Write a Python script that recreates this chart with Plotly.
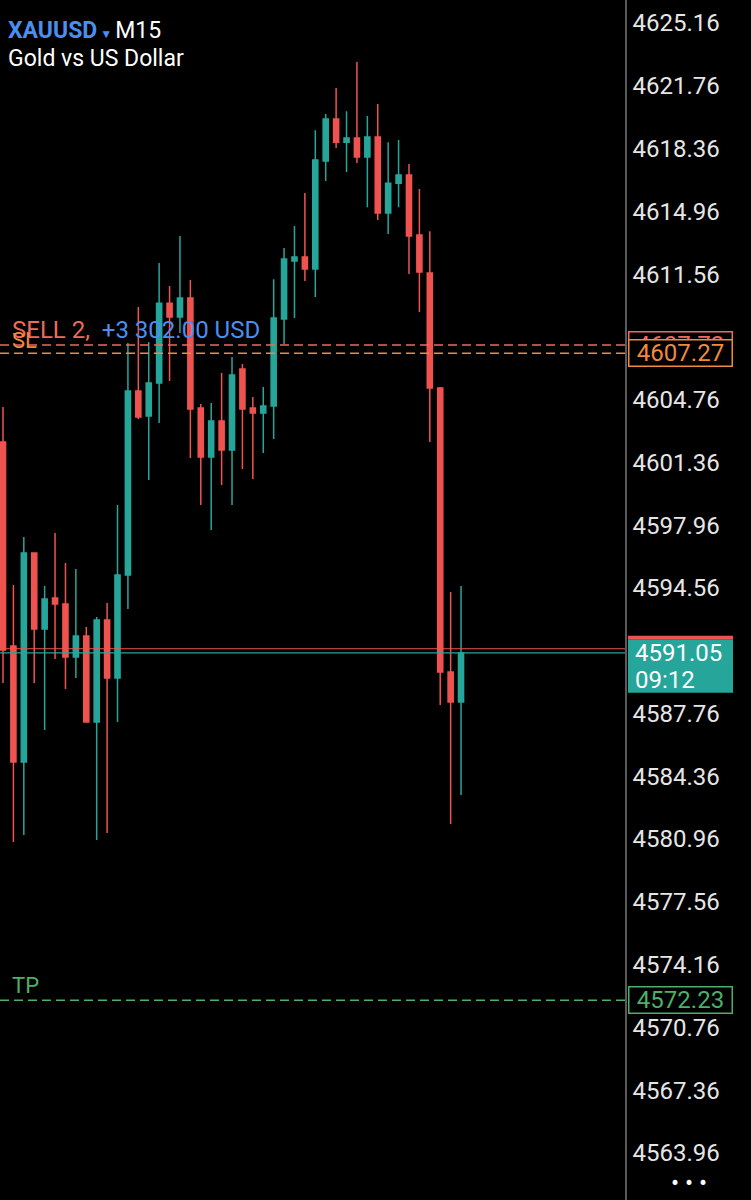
import plotly.graph_objects as go

# chart header
symbol = "XAUUSD"
timeframe = "M15"
description = "Gold vs US Dollar"

# M15 candles (oldest -> newest)
opens = [4602.47, 4591.42, 4585.14, 4596.46, 4592.34, 4594.02, 4593.69, 4590.82, 4591.96, 4587.30,
         4592.83, 4589.69, 4595.26, 4605.23, 4603.87, 4605.66, 4609.99, 4609.24, 4610.27, 4604.31,
         4601.65, 4603.60, 4602.03, 4606.42, 4604.31, 4604.04, 4604.42, 4609.13, 4612.27, 4612.49,
         4611.84, 4617.69, 4619.96, 4618.71, 4618.93, 4617.90, 4618.99, 4614.87, 4616.49, 4616.93,
         4613.68, 4611.62, 4605.39, 4590.01, 4588.39]
highs = [4604.36, 4594.72, 4597.32, 4596.46, 4594.67, 4597.54, 4595.91, 4595.59, 4592.45, 4592.99,
         4593.75, 4599.05, 4607.83, 4609.78, 4607.88, 4612.16, 4610.92, 4613.62, 4611.24, 4604.52,
         4604.58, 4606.20, 4607.07, 4606.69, 4604.90, 4605.45, 4611.29, 4612.97, 4614.17, 4615.95,
         4619.36, 4620.23, 4621.64, 4620.39, 4623.05, 4620.12, 4620.77, 4618.71, 4618.82, 4617.52,
         4616.17, 4613.89, 4605.45, 4594.34, 4594.67]
lows = [4589.41, 4580.80, 4581.18, 4589.41, 4586.87, 4590.71, 4589.09, 4589.69, 4587.30, 4580.91,
        4581.29, 4587.30, 4593.42, 4603.71, 4600.41, 4603.50, 4605.77, 4608.37, 4601.60, 4599.05,
        4597.70, 4600.14, 4599.05, 4601.00, 4600.46, 4601.87, 4602.63, 4607.77, 4609.18, 4611.19,
        4610.32, 4616.60, 4618.39, 4617.09, 4617.58, 4615.19, 4614.49, 4613.73, 4615.19, 4611.57,
        4609.51, 4602.47, 4588.22, 4581.78, 4583.35]
closes = [4591.20, 4585.14, 4596.46, 4592.34, 4593.96, 4593.69, 4590.82, 4591.96, 4587.30, 4592.83,
          4589.69, 4595.26, 4605.23, 4603.82, 4605.66, 4609.99, 4609.24, 4610.27, 4604.25, 4601.65,
          4603.60, 4602.03, 4606.10, 4604.25, 4604.04, 4604.42, 4609.18, 4612.38, 4612.49, 4611.84,
          4617.74, 4619.96, 4618.71, 4618.93, 4617.90, 4618.99, 4614.87, 4616.49, 4616.93, 4613.62,
          4611.67, 4605.39, 4590.01, 4588.39, 4591.04]

# price scale labels (4608.16 and 4591.16 are hidden behind the order boxes)
tick_vals = [4625.16, 4621.76, 4618.36, 4614.96, 4611.56, 4604.76, 4601.36, 4597.96, 4594.56,
             4587.76, 4584.36, 4580.96, 4577.56, 4574.16, 4570.76, 4567.36, 4563.96]
y_range = [4561.41, 4626.41]

# trade levels
sell_price = 4607.72
sl_price = 4607.27
tp_price = 4572.23
bid_price = 4591.05
ask_price = 4591.27
bar_timer = "09:12"
order_text = "SELL 2,"
profit_text = "+3 302.00 USD"

RED = "#ef5350"
TEAL = "#26a69a"
SELL_RED = "#ee6a5e"
SL_ORANGE = "#f08a3c"
TP_GREEN = "#4caf6a"
BLUE = "#4a8ff0"
FONT = "Roboto"

fig = go.Figure()
fig.add_trace(
    go.Candlestick(
        x=list(range(len(opens))),
        open=opens,
        high=highs,
        low=lows,
        close=closes,
        increasing=dict(line=dict(color=TEAL, width=1.5), fillcolor=TEAL),
        decreasing=dict(line=dict(color=RED, width=1.5), fillcolor=RED),
        hoverinfo="skip",
        showlegend=False,
    )
)

dash = "9px,5px"
for price, color in [(sell_price, SELL_RED), (sl_price, SL_ORANGE), (tp_price, TP_GREEN)]:
    fig.add_shape(type="line", xref="paper", x0=0, x1=1, yref="y", y0=price, y1=price,
                  line=dict(color=color, width=1.5, dash=dash), layer="above")
fig.add_shape(type="line", xref="paper", x0=0, x1=1, yref="y", y0=ask_price, y1=ask_price,
              line=dict(color=RED, width=1.2), layer="above")
fig.add_shape(type="line", xref="paper", x0=0, x1=1, yref="y", y0=bid_price, y1=bid_price,
              line=dict(color=TEAL, width=1.2), layer="above")

# current price box: teal body with the red ask strip on top
fig.add_shape(type="rect", xref="paper", xsizemode="pixel", xanchor=1, x0=3, x1=108,
              yref="y", ysizemode="pixel", yanchor=bid_price, y0=-40, y1=13,
              fillcolor=TEAL, line_width=0, layer="above")
fig.add_shape(type="rect", xref="paper", xsizemode="pixel", xanchor=1, x0=3, x1=108,
              yref="y", ysizemode="pixel", yanchor=bid_price, y0=13, y1=17,
              fillcolor=RED, line_width=0, layer="above")
fig.add_annotation(x=1, xref="paper", xanchor="left", xshift=8, y=bid_price, yref="y",
                   yanchor="middle", showarrow=False, text=f"{bid_price:.2f}",
                   font=dict(family=FONT, size=24, color="white"))
fig.add_annotation(x=1, xref="paper", xanchor="left", xshift=8, y=bid_price, yref="y",
                   yanchor="middle", yshift=-27, showarrow=False, text=bar_timer,
                   font=dict(family=FONT, size=24, color="white"))

# order / level text on the chart
fig.add_annotation(x=0, xref="paper", xanchor="left", xshift=10, y=sell_price, yref="y",
                   yanchor="middle", yshift=15, showarrow=False,
                   text=f"<span style='color:{SELL_RED}'>{order_text}</span>&nbsp;&nbsp;"
                        f"<span style='color:{BLUE}'>{profit_text}</span>",
                   font=dict(family=FONT, size=24))
fig.add_annotation(x=0, xref="paper", xanchor="left", xshift=10, y=sl_price, yref="y",
                   yanchor="middle", yshift=13, showarrow=False, text="SL",
                   font=dict(family=FONT, size=22, color=SL_ORANGE))
fig.add_annotation(x=0, xref="paper", xanchor="left", xshift=10, y=tp_price, yref="y",
                   yanchor="middle", yshift=15, showarrow=False, text="TP",
                   font=dict(family=FONT, size=22, color=TP_GREEN))

# order level boxes on the scale (SL box drawn over the SELL box)
for price, color in [(sell_price, SELL_RED), (sl_price, SL_ORANGE), (tp_price, TP_GREEN)]:
    fig.add_annotation(x=1, xref="paper", xanchor="left", xshift=3, y=price, yref="y",
                       yanchor="middle", showarrow=False, text=f"{price:.2f}", align="center",
                       width=100, height=23, bgcolor="black", bordercolor=color, borderwidth=1.5,
                       borderpad=1, font=dict(family=FONT, size=24, color=color))

# header
fig.add_annotation(x=0, xref="paper", xanchor="left", xshift=6, y=1, yref="paper",
                   yanchor="middle", yshift=-30, showarrow=False,
                   text=f"<span style='color:{BLUE}'><b>{symbol}</b></span>"
                        f"<span style='color:{BLUE};font-size:12px'> ▼ </span>{timeframe}",
                   font=dict(family=FONT, size=23, color="white"))
fig.add_annotation(x=0, xref="paper", xanchor="left", xshift=6, y=1, yref="paper",
                   yanchor="middle", yshift=-58, showarrow=False, text=description,
                   font=dict(family=FONT, size=23, color="white"))
fig.add_annotation(x=1, xref="paper", xanchor="left", xshift=44, y=0, yref="paper",
                   yanchor="middle", yshift=17, showarrow=False, text="•&nbsp;•&nbsp;•",
                   font=dict(family=FONT, size=24, color="white"))

fig.update_layout(
    width=751,
    height=1200,
    autosize=False,
    margin=dict(l=0, r=126, t=0, b=0),
    paper_bgcolor="black",
    plot_bgcolor="black",
    showlegend=False,
    xaxis=dict(visible=False, range=[-0.288, 59.75], rangeslider=dict(visible=False),
               fixedrange=True),
    yaxis=dict(side="right", range=y_range, tickvals=tick_vals,
               ticktext=[f"{v:.2f}" for v in tick_vals], showgrid=False, zeroline=False,
               showline=True, linecolor="#5a5a5a", linewidth=1.5, ticks="",
               ticklabelstandoff=1, tickfont=dict(family=FONT, size=24, color="#e6e6e6")),
)

fig.write_html(
    "out.html",
    config={"displayModeBar": False},
    post_script="document.body.style.margin='0';document.body.style.background='black';",
)
